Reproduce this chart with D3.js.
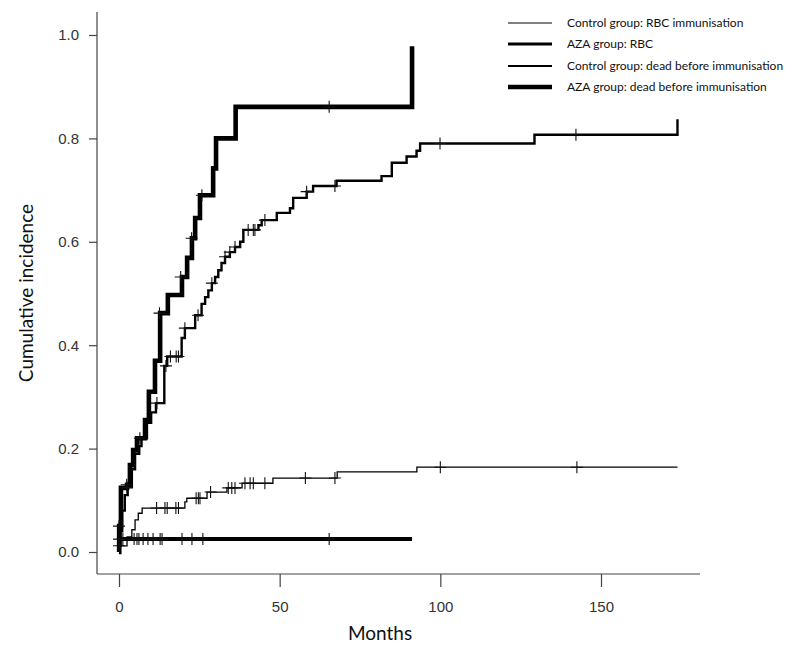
<!DOCTYPE html>
<html>
<head>
<meta charset="utf-8">
<script src="https://cdn.jsdelivr.net/npm/d3@7"></script>
<style>
  html, body { margin: 0; padding: 0; background: #fff; }
  svg { display: block; }
</style>
</head>
<body>
<svg id="chart" width="800" height="654"></svg>
<script>
// ---------------- DATA ----------------
const seriesNames = [
  "Control group: RBC immunisation",
  "AZA group: RBC",
  "Control group: dead before immunisation",
  "AZA group: dead before immunisation"
];

const xTickValues = [0, 50, 100, 150];
const yTickValues = [0.0, 0.2, 0.4, 0.6, 0.8, 1.0];

// [months, cumulative incidence] step points
const controlRBC = [
  [0, 0], [0.2, 0.012], [0.5, 0.04], [1.0, 0.08], [1.8, 0.11], [2.7, 0.125], [4.0, 0.16],
  [5.0, 0.19], [6.3, 0.205], [7.0, 0.22], [8.7, 0.25], [10.0, 0.27], [11.5, 0.288],
  [14.1, 0.36], [15.0, 0.378], [19.5, 0.414], [20.5, 0.433], [23.7, 0.458], [25.7, 0.48],
  [26.8, 0.493], [27.8, 0.506], [28.9, 0.52], [29.9, 0.532], [30.9, 0.545], [31.9, 0.559],
  [33.0, 0.571], [34.5, 0.58], [36.1, 0.59], [37.7, 0.60], [38.7, 0.623], [43.4, 0.632],
  [44.4, 0.642], [49.1, 0.656], [53.2, 0.665], [54.2, 0.685], [58.4, 0.697], [60.4, 0.708],
  [67.7, 0.718], [81.7, 0.727], [84.9, 0.753], [89.5, 0.765], [92.6, 0.776], [93.7, 0.79],
  [129.3, 0.807], [173.8, 0.837]
];
const controlRBCCensor = [
  [2.5, 0.125], [11.8, 0.288], [14.6, 0.36], [16.0, 0.378], [17.8, 0.378], [18.5, 0.378],
  [20.5, 0.433], [24.6, 0.458], [28.9, 0.52], [33.0, 0.571], [34.5, 0.58], [36.1, 0.59],
  [40.2, 0.623], [41.8, 0.623], [42.3, 0.623], [45.4, 0.642], [58.4, 0.697], [67.2, 0.708],
  [99.9, 0.79], [142.2, 0.807]
];

const azaRBC = [
  [0, 0], [0.05, 0.05], [0.6, 0.124], [2.5, 0.13], [3.4, 0.168], [4.4, 0.197], [5.6, 0.22],
  [8.1, 0.255], [9.3, 0.31], [11.2, 0.37], [12.8, 0.462], [15.2, 0.497], [19.6, 0.532],
  [21.2, 0.569], [22.7, 0.607], [23.7, 0.646], [25.2, 0.69], [29.3, 0.742], [30.2, 0.80],
  [36.3, 0.861], [91.2, 0.978]
];
const azaRBCCensor = [
  [0.0, 0.05], [2.4, 0.13], [6.5, 0.22], [12.6, 0.462], [19.2, 0.532], [22.6, 0.607],
  [25.8, 0.69], [65.4, 0.861]
];

const controlDead = [
  [0, 0], [0.1, 0.012], [2.5, 0.029], [4.0, 0.043], [5.0, 0.062], [6.0, 0.075], [7.2, 0.085],
  [20.5, 0.097], [21.1, 0.104], [27.4, 0.116], [33.6, 0.124], [38.3, 0.133], [47.9, 0.143],
  [67.9, 0.155], [92.7, 0.164], [173.8, 0.164]
];
const controlDeadCensor = [
  [0.0, 0.012], [11.7, 0.085], [14.3, 0.085], [15.0, 0.085], [17.7, 0.085], [18.5, 0.085],
  [24.0, 0.104], [24.7, 0.104], [25.2, 0.104], [28.5, 0.116], [34.0, 0.124], [35.1, 0.124],
  [36.1, 0.124], [39.2, 0.133], [40.8, 0.133], [41.8, 0.133], [45.4, 0.133], [58.0, 0.143],
  [67.2, 0.143], [100.0, 0.164], [142.5, 0.164]
];

const azaDead = [[0, 0], [0.05, 0.025], [91.2, 0.025]];
const azaDeadCensor = [
  [0.0, 0.025], [1.2, 0.025], [4.7, 0.025], [5.6, 0.025], [6.2, 0.025], [7.5, 0.025],
  [9.0, 0.025], [10.6, 0.025], [12.8, 0.025], [13.4, 0.025], [19.6, 0.025], [22.7, 0.025],
  [26.1, 0.025], [65.4, 0.025]
];

// ---------------- DRAW ----------------
const svg = d3.select("#chart");
const x = d3.scaleLinear().domain([0, 150]).range([119, 601]);
const y = d3.scaleLinear().domain([0, 1]).range([552, 35]);

const axisColor = "#444";
const frameLeft = 97, frameBottom = 574, frameTop = 12, frameRight = 700;

// frame (left + bottom)
svg.append("line").attr("x1", frameLeft).attr("x2", frameLeft)
  .attr("y1", frameTop).attr("y2", frameBottom)
  .attr("stroke", axisColor).attr("stroke-width", 1.2);
svg.append("line").attr("x1", frameLeft).attr("x2", frameRight)
  .attr("y1", frameBottom).attr("y2", frameBottom)
  .attr("stroke", axisColor).attr("stroke-width", 1.2);

// x axis
const xAxis = svg.append("g").attr("transform", `translate(0,${frameBottom})`)
  .call(d3.axisBottom(x).tickValues(xTickValues).tickSize(13).tickPadding(14).tickFormat(d3.format("d")));
xAxis.select(".domain").remove();
xAxis.selectAll(".tick line").attr("stroke", axisColor).attr("stroke-width", 1.2);
xAxis.selectAll(".tick text").attr("fill", "#333")
  .style("font-family", "'Liberation Sans', Arial, sans-serif").style("font-size", "15px");

// y axis
const yAxis = svg.append("g").attr("transform", `translate(${frameLeft},0)`)
  .call(d3.axisLeft(y).tickValues(yTickValues).tickSize(8).tickPadding(10).tickFormat(d3.format(".1f")));
yAxis.select(".domain").remove();
yAxis.selectAll(".tick line").attr("stroke", axisColor).attr("stroke-width", 1.2);
yAxis.selectAll(".tick text").attr("fill", "#333")
  .style("font-family", "'Liberation Sans', Arial, sans-serif").style("font-size", "15px");

// axis titles
svg.append("text").attr("x", 380).attr("y", 640).attr("text-anchor", "middle")
  .style("font-family", "Lato, 'Open Sans', sans-serif").style("font-size", "19px")
  .attr("fill", "#111").text("Months");
svg.append("text").attr("transform", "translate(33,293) rotate(-90)").attr("text-anchor", "middle")
  .style("font-family", "Lato, 'Open Sans', sans-serif").style("font-size", "19px")
  .attr("fill", "#111").text("Cumulative incidence");

const line = d3.line().x(d => x(d[0])).y(d => y(d[1])).curve(d3.curveStepAfter);

const series = [
  { data: controlRBC, censor: controlRBCCensor, width: 2.4 },
  { data: azaRBC, censor: azaRBCCensor, width: 4.6 },
  { data: controlDead, censor: controlDeadCensor, width: 1.3 },
  { data: azaDead, censor: azaDeadCensor, width: 4 }
];

series.forEach(s => {
  svg.append("path").datum(s.data).attr("d", line)
    .attr("fill", "none").attr("stroke", "#000").attr("stroke-width", s.width)
    .attr("stroke-linejoin", "miter").attr("stroke-linecap", "butt");
});

const markSize = 6;
series.forEach(s => {
  const g = svg.append("g");
  g.selectAll("path").data(s.censor).join("path")
    .attr("d", d => {
      const cx = x(d[0]), cy = y(d[1]);
      return `M${cx - markSize},${cy}H${cx + markSize}M${cx},${cy - markSize}V${cy + markSize}`;
    })
    .attr("stroke", "#111").attr("stroke-width", 1.1).attr("fill", "none");
});

// legend
const legendWidths = [1, 3, 2, 4.5];
const legendY = [23, 44, 66, 87];
const legend = svg.append("g");
seriesNames.forEach((name, i) => {
  legend.append("line").attr("x1", 508).attr("x2", 552)
    .attr("y1", legendY[i]).attr("y2", legendY[i])
    .attr("stroke", "#000").attr("stroke-width", legendWidths[i]);
  legend.append("text").attr("x", 567).attr("y", legendY[i]).attr("dy", "0.35em")
    .style("font-family", "Lato, 'Open Sans', sans-serif").style("font-size", "12px")
    .attr("fill", "#111").text(name);
});
</script>
</body>
</html>
